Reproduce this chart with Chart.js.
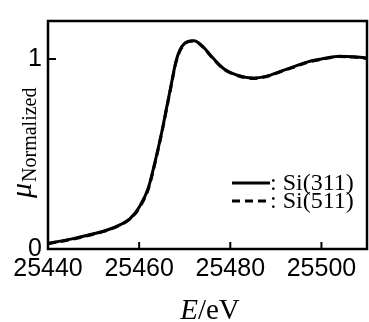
<!DOCTYPE html>
<html>
<head>
<meta charset="utf-8">
<script src="https://cdn.jsdelivr.net/npm/chart.js@4/dist/chart.umd.min.js"></script>
<style>
  body { margin: 0; background: #fff; }
</style>
</head>
<body>
<canvas id="myCanvas" width="369" height="322"></canvas>
<script>
// photon energy, eV
const energy = [25440, 25445, 25450, 25453, 25456, 25458, 25460, 25462, 25463.5, 25465, 25466, 25467, 25468, 25469, 25470.5, 25472, 25474, 25476, 25478.5, 25481.5, 25485, 25488, 25491, 25494, 25497, 25500, 25504, 25507, 25510];
// normalized absorption, two monochromator crystals
const muSi311 = [0.03, 0.052, 0.08, 0.10, 0.13, 0.16, 0.22, 0.32, 0.46, 0.62, 0.74, 0.86, 0.98, 1.05, 1.09, 1.096, 1.065, 1.01, 0.95, 0.915, 0.90, 0.91, 0.935, 0.96, 0.985, 1.0, 1.015, 1.012, 1.005];
const muSi511 = [0.028, 0.05, 0.078, 0.098, 0.128, 0.158, 0.215, 0.315, 0.455, 0.615, 0.735, 0.855, 0.975, 1.045, 1.088, 1.095, 1.063, 1.008, 0.948, 0.913, 0.898, 0.908, 0.933, 0.958, 0.983, 0.998, 1.013, 1.01, 1.003];
const seriesNames = ['Si(311)', 'Si(511)'];
const xTicks = [25440, 25460, 25480, 25500];
const yTicks = [0, 1];

const toPoints = (ys) => energy.map((e, i) => ({ x: e, y: ys[i] }));

const tickFont = { family: 'Liberation Sans', size: 25 };

const framePlugin = {
   id: 'frame',
   afterDraw(chart) {
      const ctx = chart.ctx;
      const { left, right, top, bottom } = chart.chartArea;
      const xs = chart.scales.x;
      const ys = chart.scales.y;
      ctx.save();
      ctx.strokeStyle = '#000';
      ctx.lineWidth = 2.5;
      ctx.strokeRect(left, top, right - left, bottom - top);

      // inward ticks
      ctx.lineWidth = 2;
      ctx.beginPath();
      xTicks.forEach(v => {
         const px = xs.getPixelForValue(v);
         ctx.moveTo(px, bottom);
         ctx.lineTo(px, bottom - 7);
      });
      yTicks.forEach(v => {
         const py = ys.getPixelForValue(v);
         ctx.moveTo(left, py);
         ctx.lineTo(left + 8, py);
      });
      ctx.stroke();

      // legend
      const rows = [183, 201];
      chart.data.datasets.forEach((ds, i) => {
         ctx.lineWidth = 3;
         ctx.setLineDash(ds.borderDash || []);
         ctx.beginPath();
         ctx.moveTo(232, rows[i]);
         ctx.lineTo(270, rows[i]);
         ctx.stroke();
         ctx.setLineDash([]);
         ctx.fillStyle = '#000';
         ctx.font = '24px "Liberation Serif"';
         ctx.textBaseline = 'middle';
         ctx.textAlign = 'left';
         ctx.fillText(': ' + seriesNames[i], 270, rows[i] + 1);
      });

      // x title: E/eV
      ctx.textBaseline = 'alphabetic';
      ctx.font = 'italic 29px "Liberation Serif"';
      const eW = ctx.measureText('E').width;
      ctx.font = '29px "Liberation Serif"';
      const restW = ctx.measureText('/eV').width;
      let x0 = 210 - (eW + restW) / 2;
      ctx.font = 'italic 29px "Liberation Serif"';
      ctx.fillText('E', x0, 319);
      ctx.font = '29px "Liberation Serif"';
      ctx.fillText('/eV', x0 + eW, 319);

      // y title: mu_Normalized
      ctx.translate(31, 198);
      ctx.rotate(-Math.PI / 2);
      ctx.font = 'italic 30px "Liberation Serif"';
      ctx.fillText('\u03BC', 0, 0);
      const muW = ctx.measureText('\u03BC').width;
      ctx.font = '20px "Liberation Serif"';
      ctx.fillText('Normalized', muW + 1, 5);
      ctx.restore();
   }
};

new Chart(document.getElementById('myCanvas').getContext('2d'), {
   type: 'line',
   data: {
      datasets: [
         {
            label: seriesNames[0],
            data: toPoints(muSi311),
            borderColor: '#000',
            borderWidth: 3,
            pointRadius: 0,
            cubicInterpolationMode: 'monotone'
         },
         {
            label: seriesNames[1],
            data: toPoints(muSi511),
            borderColor: '#000',
            borderWidth: 3,
            borderDash: [8, 5],
            pointRadius: 0,
            cubicInterpolationMode: 'monotone'
         }
      ]
   },
   options: {
      responsive: false,
      animation: false,
      layout: { padding: { top: 12, right: 2, left: 0, bottom: 0 } },
      plugins: { legend: { display: false }, tooltip: { enabled: false } },
      scales: {
         x: {
            type: 'linear',
            min: 25440,
            max: 25510,
            afterBuildTicks: (scale) => { scale.ticks = xTicks.map(v => ({ value: v })); },
            afterFit: (scale) => { scale.height = 73; },
            ticks: { font: tickFont, color: '#000', padding: 5, maxRotation: 0, autoSkip: false, callback: (v) => String(v) },
            grid: { display: false, drawTicks: false },
            border: { display: false }
         },
         y: {
            min: 0,
            max: 1.2,
            afterBuildTicks: (scale) => { scale.ticks = yTicks.map(v => ({ value: v })); },
            afterFit: (scale) => { scale.width = 48; },
            ticks: { font: tickFont, color: '#000', padding: 6, autoSkip: false },
            grid: { display: false, drawTicks: false },
            border: { display: false }
         }
      }
   },
   plugins: [framePlugin]
});
</script>
</body>
</html>
